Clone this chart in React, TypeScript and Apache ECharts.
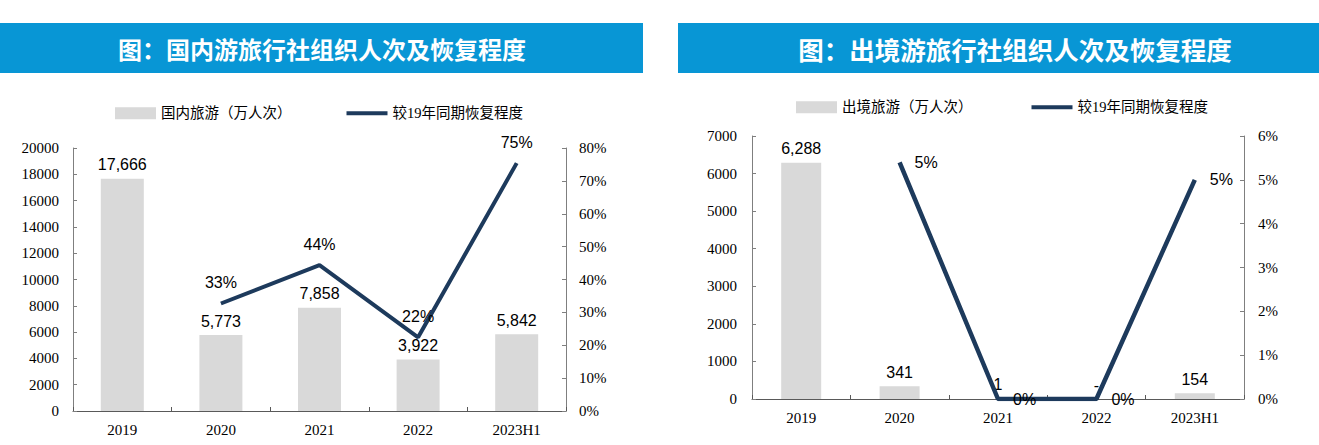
import React, { useEffect, useRef } from 'react';
import * as echarts from 'echarts';

const categories = ['2019', '2020', '2021', '2022', '2023H1'];
const domesticTrips = [17666, 5773, 7858, 3922, 5842];
const domesticRecovery = [null, 32.7, 44.4, 22.4, 75.4];
const outboundTrips = [6288, 341, 1, 0, 154];
const outboundRecovery = [null, 5.4, 0, 0, 5.0];

const leftTitle = '图：国内游旅行社组织人次及恢复程度';
const rightTitle = '图：出境游旅行社组织人次及恢复程度';
const domesticName = '国内旅游（万人次）';
const outboundName = '出境旅游（万人次）';
const recoveryName = '较19年同期恢复程度';

const SERIF = '"Liberation Serif", "Times New Roman", "Noto Sans CJK SC", serif';
const SANS = '"Liberation Sans", Arial, sans-serif';
const BAR = '#D9D9D9';
const LINE = '#1D3A5C';
const BLUE = '#0896D5';

const fmtThousands = (v: number) => (v === 0 ? '-' : v.toLocaleString('en-US'));

function xAxis(gridIndex: number) {
  return {
    type: 'category',
    gridIndex,
    data: categories,
    boundaryGap: true,
    axisLine: { show: true, lineStyle: { color: '#595959', width: 1 } },
    axisTick: { show: true, inside: true, length: 4, alignWithLabel: false, lineStyle: { color: '#595959' } },
    axisLabel: { margin: 11, fontFamily: SERIF, fontSize: 15, color: '#000' },
    splitLine: { show: false },
  };
}

function yAxis(gridIndex: number, position: string, max: number, interval: number, pct: boolean, margin: number) {
  return {
    type: 'value',
    gridIndex,
    position,
    min: 0,
    max,
    interval,
    axisLine: { show: true, lineStyle: { color: '#7F7F7F', width: 1 } },
    axisTick: { show: true, inside: true, length: 4, lineStyle: { color: '#7F7F7F' } },
    axisLabel: {
      margin,
      fontFamily: SERIF,
      fontSize: 15,
      color: '#000',
      formatter: (v: number) => (pct ? v + '%' : String(v)),
    },
    splitLine: { show: false },
  };
}

function lineSeries(name: string, xi: number, yi: number, data: (number | null)[], width: number, position: string, distance: number) {
  return {
    type: 'line', name, xAxisIndex: xi, yAxisIndex: yi, data,
    symbol: 'circle', symbolSize: 0.01, showSymbol: true,
    lineStyle: { color: LINE, width }, itemStyle: { color: LINE },
    z: 5,
    label: {
      show: true, position, distance, fontFamily: SANS, fontSize: 16, color: '#000',
      formatter: (p: any) => Math.round(p.value) + '%',
    },
  };
}

export default function App() {
  const ref = useRef<HTMLDivElement>(null);
  useEffect(() => {
    if (!ref.current) return;
    const chart = echarts.init(ref.current, undefined, { renderer: 'svg' });
    const option: any = {
      animation: false,
      backgroundColor: '#fff',
      graphic: [
        { type: 'rect', shape: { x: 0, y: 23, width: 643, height: 50 }, style: { fill: BLUE } },
        { type: 'rect', shape: { x: 678, y: 23, width: 641, height: 50 }, style: { fill: BLUE } },
        {
          type: 'text', x: 322, y: 48,
          style: { text: leftTitle, fill: '#fff', font: 'bold 24px "Noto Sans CJK SC", sans-serif', textAlign: 'center', textVerticalAlign: 'middle' },
        },
        {
          type: 'text', x: 1015, y: 48,
          style: { text: rightTitle, fill: '#fff', font: 'bold 25.5px "Noto Sans CJK SC", sans-serif', textAlign: 'center', textVerticalAlign: 'middle' },
        },
      ],
      legend: [
        {
          left: 115, top: 106, padding: 0, itemWidth: 41, itemHeight: 12, itemGap: 53,
          textStyle: { fontFamily: SERIF, fontSize: 14.5, color: '#000' },
          data: [
            { name: domesticName, icon: 'rect' },
            { name: recoveryName, itemStyle: { opacity: 0 }, lineStyle: { width: 4, color: LINE } },
          ],
          selectedMode: false,
        },
        {
          left: 796, top: 100, padding: 0, itemWidth: 41, itemHeight: 12, itemGap: 57,
          textStyle: { fontFamily: SERIF, fontSize: 14.5, color: '#000' },
          data: [
            { name: outboundName, icon: 'rect' },
            { name: recoveryName, itemStyle: { opacity: 0 }, lineStyle: { width: 4, color: LINE } },
          ],
          selectedMode: false,
        },
      ],
      grid: [
        { left: 73, top: 148, width: 493, height: 263 },
        { left: 752, top: 136, width: 492, height: 263 },
      ],
      xAxis: [xAxis(0), xAxis(1)],
      yAxis: [
        yAxis(0, 'left', 20000, 2000, false, 14),
        yAxis(0, 'right', 80, 10, true, 13),
        yAxis(1, 'left', 7000, 1000, false, 15),
        yAxis(1, 'right', 6, 1, true, 14),
      ],
      series: [
        {
          type: 'bar', name: domesticName, xAxisIndex: 0, yAxisIndex: 0, data: domesticTrips,
          barWidth: 43, itemStyle: { color: BAR },
          label: { show: true, position: 'top', distance: 6, fontFamily: SANS, fontSize: 16, color: '#000', formatter: (p: any) => fmtThousands(p.value) },
        },
        lineSeries(recoveryName, 0, 1, domesticRecovery, 4, 'top', 13),
        {
          type: 'bar', name: outboundName, xAxisIndex: 1, yAxisIndex: 2, data: outboundTrips,
          barWidth: 40, itemStyle: { color: BAR },
          label: { show: true, position: 'top', distance: 6, fontFamily: SANS, fontSize: 16, color: '#000', formatter: (p: any) => fmtThousands(p.value) },
        },
        lineSeries(recoveryName, 1, 3, outboundRecovery, 4.5, 'right', 15),
      ],
    };
    chart.setOption(option);
    return () => chart.dispose();
  }, []);
  return <div ref={ref} style={{ position: 'fixed', left: 0, top: 0, width: 1319, height: 445 }} />;
}
